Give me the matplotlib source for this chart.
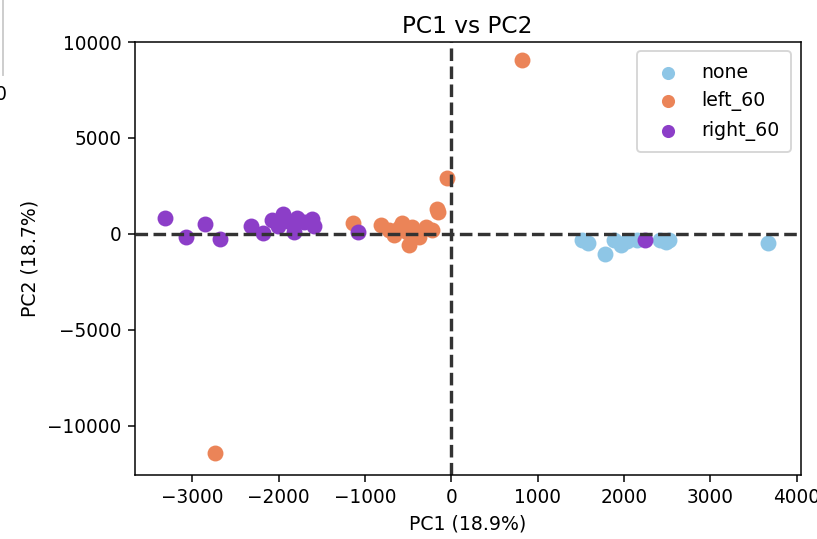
import matplotlib
matplotlib.use("Agg")
import matplotlib.pyplot as plt

# PCA scores per group (PC1, PC2)
none_pc1 = [1514, 1584, 1780, 1884, 1965, 2035, 2150, 2416, 2486, 2520, 3665]
none_pc2 = [-313, -469, -1043, -313, -574, -365, -313, -313, -417, -313, -469]

left_pc1 = [-46, -162, -150, -1133, -809, -717, -659, -566, -486, -451, -370,
            -289, -220, -601, -509, 821, -2740]
left_pc2 = [2921, 1304, 1150, 574, 470, 209, -52, 574, -574, 365, -156,
            365, 209, 313, 104, 9077, -11424]

right_pc1 = [-3318, -3075, -2855, -2682, -2324, -2185, -2081, -1954, -1873,
             -1827, -1792, -1618, -1595, -1075, 2243, -2012, -1700]
right_pc2 = [835, -156, 522, -261, 417, 52, 730, 1043, 626,
             104, 835, 782, 417, 104, -313, 417, 600]

groups = ["none", "left_60", "right_60"]
colors = ["#8EC6E6", "#EB8458", "#8C3EC8"]

fig = plt.figure(figsize=(817 / 136, 539 / 136), dpi=136)
ax = fig.add_axes([0.165, 0.119, 0.815, 0.803])

ax.scatter(none_pc1, none_pc2, s=55, color=colors[0], label=groups[0])
ax.scatter(left_pc1, left_pc2, s=55, color=colors[1], label=groups[1])
ax.scatter(right_pc1, right_pc2, s=55, color=colors[2], label=groups[2])

ax.axhline(0, color="#333333", ls="--", lw=1.8)
ax.axvline(0, color="#333333", ls="--", lw=1.8)

ax.set_xlim(-3665, 4046)
ax.set_ylim(-12570, 10000)
ax.tick_params(labelsize=9.8)
ax.set_xlabel("PC1 (18.9%)")
ax.set_ylabel("PC2 (18.7%)")
ax.set_title("PC1 vs PC2", fontsize=12.3, pad=5)
ax.legend(loc="upper right", markerscale=0.8, borderpad=0.6, labelspacing=0.5)

# bit of the neighbouring plot at the left edge
fig.add_artist(plt.Line2D([0.004, 0.004], [0.86, 1.0], color="#cccccc", lw=1))
fig.text(-0.007, 0.815, "0", fontsize=10)

fig.savefig("out.png", dpi=136)
